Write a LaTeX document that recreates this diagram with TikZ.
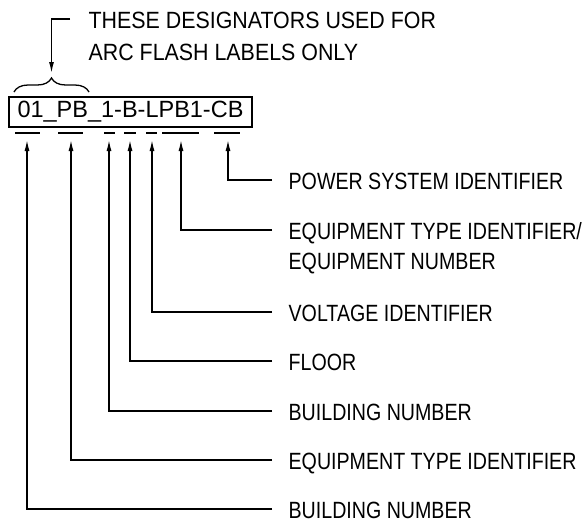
\documentclass[tikz,border=0pt]{standalone}
\usepackage{fontspec}
\setmainfont{Liberation Sans}
\newfontfamily\lblfont[FakeStretch=0.835]{Liberation Sans}
\newfontfamily\notefont[FakeStretch=0.91]{Liberation Sans}
\usetikzlibrary{arrows.meta, positioning, decorations.pathreplacing}

\tikzset{
  lbl/.style={anchor=north west, inner sep=0pt, align=left,
    font=\lblfont\fontsize{23.5}{30}\selectfont},
  notelbl/.style={lbl, font=\notefont\fontsize{23.5}{32}\selectfont},
  pointer/.style={-{Latex[length=11pt,width=5pt]}, line width=1.3pt},
  tagbox/.style={draw, line width=1.3pt, minimum width=243pt, minimum height=30pt,
    inner sep=0pt, font=\fontsize{23.5}{28}\selectfont},
}

\begin{document}
\begin{tikzpicture}[x=1pt, y=-1pt, line width=1.3pt]
\useasboundingbox (0,0) rectangle (585,527);

% designator tag
\node[tagbox] (tag) at (130.5,112) {01\_PB\_1-B-LPB1-CB};
\foreach \a/\b in {15/40,58/83,104/115,124/136,146/157,162/199,214/240}
  \draw (\a,133) -- (\b,133);

% note on the arc flash part
\draw[decorate, decoration={brace, amplitude=14pt}] (14,92) -- (89,92);
\coordinate (brace-tip) at (51.5,73);
\node[notelbl] (note) at (88,11) {THESE DESIGNATORS USED FOR\\ARC FLASH LABELS ONLY};
\draw[pointer] ([xshift=-18pt,yshift=-8pt]note.north west) -| (brace-tip);

% field labels
\node[lbl] (pwr)   at (288,172) {POWER SYSTEM IDENTIFIER};
\node[lbl] (eqn)   at (288,222) {EQUIPMENT TYPE IDENTIFIER/\\EQUIPMENT NUMBER};
\node[lbl] (volt)  at (288,304) {VOLTAGE IDENTIFIER};
\node[lbl] (flr)   at (288,353) {FLOOR};
\node[lbl] (bldg)  at (288,403) {BUILDING NUMBER};
\node[lbl] (eqt)   at (288,452) {EQUIPMENT TYPE IDENTIFIER};
\node[lbl] (bldgb) at (288,501) {BUILDING NUMBER};

% pointers up to the fields
\foreach \n/\x in {pwr/228, eqn/181, volt/152, flr/130, bldg/109, eqt/71, bldgb/27}{
  \coordinate (tip-\n) at (\x,140);
  \draw[pointer] ([xshift=-16pt,yshift=-8pt]\n.north west) -| (tip-\n);
}
\end{tikzpicture}
\end{document}
